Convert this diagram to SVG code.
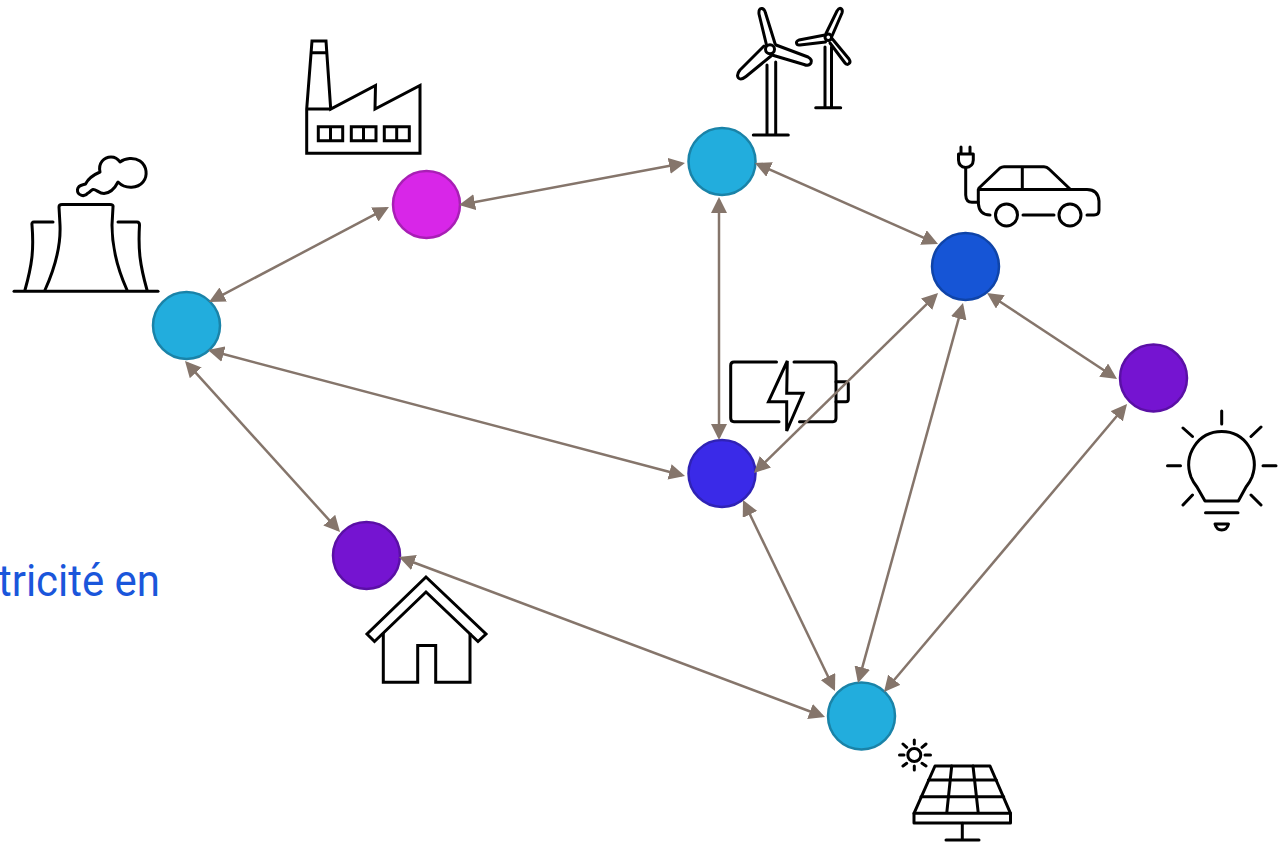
<svg xmlns="http://www.w3.org/2000/svg" width="1281" height="842" viewBox="0 0 1281 842">
<style>
.ic{fill:none;stroke:#000;stroke-width:3;stroke-linejoin:round;stroke-linecap:round}
.m{fill:none;stroke:#000;stroke-width:3;stroke-linejoin:miter;stroke-linecap:butt}
.n{stroke-width:2.5}
.cy{fill:#22ADDD;stroke:#1A83A8}
.pk{fill:#D826E8;stroke:#A81FB5}
.bl{fill:#1655D6;stroke:#0F44A8}
.pu{fill:#7514D1;stroke:#5A10A5}
.in{fill:#3A2AE8;stroke:#2F22B5}
.c line{stroke:#85756B;stroke-width:2.5;marker-start:url(#a);marker-end:url(#a)}
</style>
<defs>
<marker id="a" markerUnits="userSpaceOnUse" markerWidth="18" markerHeight="16" refX="13" refY="8" orient="auto-start-reverse"><path d="M0,0L16,8L0,16Z" fill="#85756B"/></marker>
</defs>
<rect width="1281" height="842" fill="#fff"/>
<text x="-2" y="595.500" font-family="Roboto, 'Liberation Sans', sans-serif" font-size="45" fill="#1A56DB" textLength="162" lengthAdjust="spacingAndGlyphs">tricité en</text>

<g id="plant">
<circle class="n cy" cx="186.500" cy="325.500" r="33.500"/>
<g class="ic">
<path d="M14,291.300H158"/>
<path d="M45,290C54,270 61,248 60,225L59,207Q59,204.500 62,204.500H110Q113.500,204.500 113,207L112,225C112,248 118,270 127,290"/>
<path d="M53,222H34Q31.500,222 32,225C34,250 32,265 25,290"/>
<path d="M118,222H137Q139.500,222 139.500,225C138,250 140,265 147,290"/>
<path d="M88,193C84,198 77,195 77.500,189.500C78,185 82,185 85.500,184C88,179 93,175 100,172C98,163 104,157 111,157C115,157 118,159 120,162C125,158 134,157 140,161C147,166 148,176 143,182C138,188 126,190 118,182C115,188 110,193 104,193.500C99,193.500 96,189 93,189.500C91,190 90,192 88,193Z"/>
</g>
</g>

<g id="factory">
<circle class="n pk" cx="426.500" cy="204.500" r="33.500"/>
<g class="m">
<path d="M312,41H326L330.700,109L375.500,85.500L375,109L420,85.500V153.300H306.700V109Z"/>
<path d="M306.700,109H330.700M311,52.700H327.500"/>
<path d="M318.300,126.700H342.700V140.700H318.300ZM330.500,126.700V140.700M351.300,126.700H376V140.700H351.300ZM363.500,126.700V140.700M384.300,126.700H409.300V140.700H384.300ZM396.700,126.700V140.700"/>
</g>
</g>

<g id="wind">
<circle class="n cy" cx="722" cy="161.500" r="33.500"/>
<g class="ic">
<circle cx="770" cy="49.300" r="4.500"/>
<path d="M766.500,45L759,14Q758.500,8 762,8.500Q764.500,9 765.500,13L775,43.500"/>
<path d="M776,45L808,57Q812.500,59.500 811,63Q809,66.500 804,64.500L772,55"/>
<path d="M764,46L740,70Q736,75 738.500,78Q741,80.500 746,76.500L771,56"/>
<path d="M767,65V135M775.700,62V135M753.300,135H788.300"/>
<circle cx="828.300" cy="37.300" r="3.300"/>
<path d="M826,33.500L837,11Q839,7.500 841,8.500Q843,10 842,13L832,36"/>
<path d="M825,35L799,40Q796,41.500 796.500,43Q797,45.500 800,45L825.500,42"/>
<path d="M832,38.500L849,59Q851,62 849,63.500Q847,65.500 845,63L830,43"/>
<path d="M825,47V107M831.500,47V107M815.700,107.700H840.700"/>
</g>
</g>

<g id="car">
<circle class="n bl" cx="965.500" cy="266.500" r="33.500"/>
<g class="ic">
<path d="M961,147V154M970,147V154M958.500,154H973.300V160Q973,167 965.700,167.500Q958.700,167 958.500,160Z"/>
<path d="M965.700,168V195Q966,202.300 972,202.300H978.300"/>
<path d="M978.300,190V203Q979,215 990,215"/>
<circle cx="1006.500" cy="215" r="11"/>
<path d="M1023,215H1054"/>
<circle cx="1070" cy="215" r="11"/>
<path d="M1087,215H1094Q1099,215 1099,210V201Q1098,189.500 1087,189.500H978.300"/>
<path d="M979,188L1000,168Q1002,166.700 1004,166.700H1044Q1047,166.700 1049,169L1070,189M1022.300,166.700V189"/>
</g>
</g>

<g id="bulb">
<circle class="n pu" cx="1153.500" cy="378" r="33.500"/>
<g class="ic">
<path d="M1205,501H1238.300L1246,487Q1250,482 1252,477C1260,455 1245,431.500 1221.700,431.500C1198,431.500 1183,455 1191,477Q1193,482 1197,487Z"/>
<path d="M1221.700,411V424M1183,428L1192.500,436.500M1261,427L1251,436.500M1167.500,465.700H1180.500M1263,465.700H1276M1183,505L1192.500,495M1261,505L1251,495M1205.500,512.700H1238"/>
<path d="M1215,524H1228.500Q1227,530 1221.700,530Q1216.500,530 1215,524Z"/>
</g>
</g>

<g id="battery">
<circle class="n in" cx="722" cy="473.500" r="33.500"/>
<g class="ic">
<path d="M776.500,362H734Q730.700,362 730.700,365.500V418Q730.700,421.700 734,421.700H779M794,362H833Q836,362 836,365.500V418Q836,421.700 833,421.700H799.500"/>
<path d="M836,381.700H846Q848.300,381.700 848.300,384V399.500Q848.300,401.700 846,401.700H836"/>
</g>
<path class="m" d="M787.300,361L768.500,401.700H786.700V431L803,393.300H786.700Z"/>
</g>

<g id="house">
<circle class="n pu" cx="366.500" cy="555.500" r="33.500"/>
<g class="m">
<path d="M426,577L486,634L478,641.500L426,592L374.500,641.500L367,634Z"/>
<path d="M383.300,633V682.300H417.700V645.500H435.700V682.300H470V633"/>
</g>
</g>

<g id="solar">
<circle class="n cy" cx="861.500" cy="716" r="33.500"/>
<g class="ic">
<circle cx="914.300" cy="755" r="6.500"/>
<path d="M914.300,740V744M914.300,766V770M899.500,755H904M925,755H930.500M903,744L906.700,747.300M926,744L922,747.300M903,766L906.700,763.300M926,766L922,763.300"/>
<path d="M935,766H990L1010.500,813.300V823H914V813.300Z"/>
<path d="M914,813.300H1010.500M928.500,780H996.300M921,796.700H1003.700M951.700,766L946.700,813.300M973,766L978.300,813.300M962.300,823.300V840M946,840H979"/>
</g>
</g>

<g id="connectors" class="c">
<line x1="211.700" y1="300.600" x2="386.300" y2="208.400"/>
<line x1="462" y1="204.500" x2="682" y2="163.500"/>
<line x1="757.700" y1="164.200" x2="935.300" y2="242.800"/>
<line x1="719" y1="200" x2="719" y2="437"/>
<line x1="989.500" y1="294.700" x2="1114.500" y2="377.300"/>
<line x1="935.900" y1="295.100" x2="756.100" y2="470.900"/>
<line x1="962.200" y1="305.900" x2="858.800" y2="680.100"/>
<line x1="1125.100" y1="406.300" x2="885.900" y2="689.700"/>
<line x1="744.300" y1="502.700" x2="833.700" y2="688.300"/>
<line x1="210.900" y1="350.800" x2="682.100" y2="475.200"/>
<line x1="187" y1="363.200" x2="338" y2="529.800"/>
<line x1="401.800" y1="558" x2="822.200" y2="716"/>
</g>
</svg>
